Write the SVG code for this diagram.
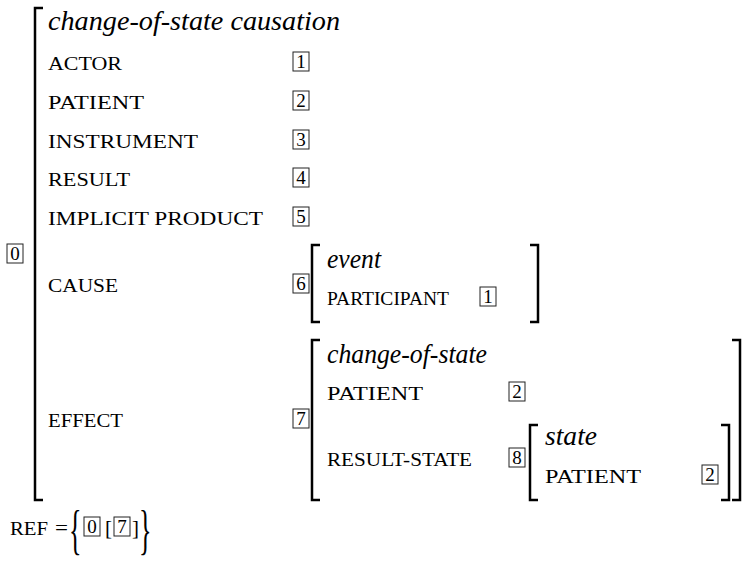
<svg xmlns="http://www.w3.org/2000/svg" width="746" height="562" viewBox="0 0 746 562" font-family="Liberation Serif, Times New Roman, DejaVu Serif, serif">
  <style>
    .type { font-style: italic; font-size: 27px; }
    .sc { font-size: 18px; }
    .tag { font-size: 19px; text-anchor: middle; }
    .op { font-size: 22px; }
    .box { fill: none; stroke: #222; stroke-width: 1; }
    .brk { fill: none; stroke: #000; stroke-width: 2.5; stroke-linecap: butt; }
  </style>

  <!-- outer matrix -->
  <g id="avm-main">
    <path class="brk" d="M43 8 H35 V500 H43"/>
    <rect class="box" x="7" y="244" width="16" height="19"/>
    <text class="tag" x="15" y="260" textLength="9.5" lengthAdjust="spacingAndGlyphs">0</text>

    <text class="type" x="48" y="30" textLength="292" lengthAdjust="spacingAndGlyphs">change-of-state causation</text>

    <text class="sc" x="48" y="70" textLength="74" lengthAdjust="spacingAndGlyphs">ACTOR</text>
    <rect class="box" x="293" y="52" width="16" height="19"/>
    <text class="tag" x="301" y="68" textLength="9.5" lengthAdjust="spacingAndGlyphs">1</text>

    <text class="sc" x="48" y="109" textLength="96" lengthAdjust="spacingAndGlyphs">PATIENT</text>
    <rect class="box" x="293" y="91" width="16" height="19"/>
    <text class="tag" x="301" y="107" textLength="9.5" lengthAdjust="spacingAndGlyphs">2</text>

    <text class="sc" x="48" y="148" textLength="150" lengthAdjust="spacingAndGlyphs">INSTRUMENT</text>
    <rect class="box" x="293" y="130" width="16" height="19"/>
    <text class="tag" x="301" y="146" textLength="9.5" lengthAdjust="spacingAndGlyphs">3</text>

    <text class="sc" x="48" y="186" textLength="82" lengthAdjust="spacingAndGlyphs">RESULT</text>
    <rect class="box" x="293" y="168" width="16" height="19"/>
    <text class="tag" x="301" y="184" textLength="9.5" lengthAdjust="spacingAndGlyphs">4</text>

    <text class="sc" x="48" y="225" textLength="215" lengthAdjust="spacingAndGlyphs">IMPLICIT PRODUCT</text>
    <rect class="box" x="293" y="207" width="16" height="19"/>
    <text class="tag" x="301" y="223" textLength="9.5" lengthAdjust="spacingAndGlyphs">5</text>

    <text class="sc" x="48" y="292" textLength="70" lengthAdjust="spacingAndGlyphs">CAUSE</text>
    <rect class="box" x="293" y="274" width="16" height="19"/>
    <text class="tag" x="301" y="290" textLength="9.5" lengthAdjust="spacingAndGlyphs">6</text>

    <text class="sc" x="48" y="427" textLength="75" lengthAdjust="spacingAndGlyphs">EFFECT</text>
    <rect class="box" x="293" y="409" width="16" height="19"/>
    <text class="tag" x="301" y="425" textLength="9.5" lengthAdjust="spacingAndGlyphs">7</text>
  </g>

  <!-- CAUSE value -->
  <g id="avm-cause">
    <path class="brk" d="M320 245 H312 V322 H320"/>
    <path class="brk" d="M530 245 H538 V322 H530"/>
    <text class="type" x="327" y="268" textLength="54" lengthAdjust="spacingAndGlyphs">event</text>
    <text class="sc" x="327" y="305" textLength="122" lengthAdjust="spacingAndGlyphs">PARTICIPANT</text>
    <rect class="box" x="480" y="287" width="16" height="19"/>
    <text class="tag" x="488" y="303" textLength="9.5" lengthAdjust="spacingAndGlyphs">1</text>
  </g>

  <!-- EFFECT value -->
  <g id="avm-effect">
    <path class="brk" d="M320 340 H312 V500 H320"/>
    <path class="brk" d="M732 340 H740 V500 H732"/>
    <text class="type" x="327" y="363" textLength="160" lengthAdjust="spacingAndGlyphs">change-of-state</text>
    <text class="sc" x="327" y="400" textLength="96" lengthAdjust="spacingAndGlyphs">PATIENT</text>
    <rect class="box" x="509" y="382" width="16" height="19"/>
    <text class="tag" x="517" y="398" textLength="9.5" lengthAdjust="spacingAndGlyphs">2</text>
    <text class="sc" x="327" y="466" textLength="145" lengthAdjust="spacingAndGlyphs">RESULT-STATE</text>
    <rect class="box" x="509" y="448" width="16" height="19"/>
    <text class="tag" x="517" y="464" textLength="9.5" lengthAdjust="spacingAndGlyphs">8</text>
  </g>

  <!-- RESULT-STATE value -->
  <g id="avm-state">
    <path class="brk" d="M538 425 H530 V500 H538"/>
    <path class="brk" d="M721 425 H729 V500 H721"/>
    <text class="type" x="545" y="445" textLength="52" lengthAdjust="spacingAndGlyphs">state</text>
    <text class="sc" x="545" y="483" textLength="96" lengthAdjust="spacingAndGlyphs">PATIENT</text>
    <rect class="box" x="702" y="465" width="16" height="19"/>
    <text class="tag" x="710" y="481" textLength="9.5" lengthAdjust="spacingAndGlyphs">2</text>
  </g>

  <!-- reentrancy set -->
  <g id="ref">
    <text class="sc" x="10" y="535" textLength="38" lengthAdjust="spacingAndGlyphs">REF</text>
    <text class="op" x="55" y="535" textLength="13" lengthAdjust="spacingAndGlyphs">=</text>
    <text transform="translate(69 548) scale(0.5 1.05)" font-size="52" textLength="25" lengthAdjust="spacingAndGlyphs">{</text>
    <rect class="box" x="84" y="517" width="16" height="19"/>
    <text class="tag" x="92" y="533" textLength="9.5" lengthAdjust="spacingAndGlyphs">0</text>
    <text class="op" x="105" y="535" textLength="7" lengthAdjust="spacingAndGlyphs">[</text>
    <rect class="box" x="114" y="517" width="16" height="19"/>
    <text class="tag" x="122" y="533" textLength="9.5" lengthAdjust="spacingAndGlyphs">7</text>
    <text class="op" x="132" y="535" textLength="7" lengthAdjust="spacingAndGlyphs">]</text>
    <text transform="translate(139 548) scale(0.5 1.05)" font-size="52" textLength="25" lengthAdjust="spacingAndGlyphs">}</text>
  </g>
</svg>
